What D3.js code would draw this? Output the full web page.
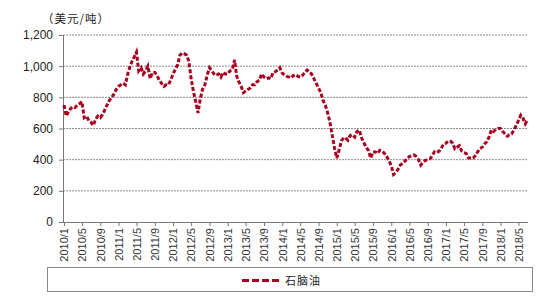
<!DOCTYPE html>
<html>
<head>
<meta charset="utf-8">
<script src="https://cdn.jsdelivr.net/npm/d3@7"></script>
<style>
  body { margin: 0; background: #fff; }
  svg { display: block; font-family: Arial, "Liberation Sans", sans-serif; }
</style>
</head>
<body>
<svg id="chart" width="550" height="300"></svg>
<script>
// semi-monthly naphtha prices, USD/ton (1st and 16th of each month)
const Y2010 = [750,680,710,730,740,735,750,760,772,670,680,650,640,620,660,680,670,690,720,750,780,800,820,850];
const Y2011 = [870,880,890,880,940,990,1030,1060,1090,970,990,950,970,1000,920,960,960,940,910,890,870,880,880,910];
const Y2012 = [950,980,1010,1070,1085,1080,1070,1030,920,840,770,700,790,850,880,940,990,970,950,940,950,930,960,950];
const Y2013 = [950,970,980,1040,940,900,870,830,840,850,860,880,880,900,910,950,930,920,925,920,960,965,975,990];
const Y2014 = [955,945,935,930,925,940,945,935,930,940,960,975,965,950,920,890,860,830,780,750,700,640,560,480];
const Y2015 = [410,460,520,540,540,525,555,560,545,580,590,540,510,480,460,410,450,450,440,460,455,440,420,395];
const Y2016 = [360,305,320,340,365,375,390,410,420,425,430,420,400,365,385,395,400,405,425,450,445,455,475,500];
const Y2017 = [505,520,518,505,470,480,490,455,445,440,410,410,410,425,450,470,480,500,515,545,590,580,595,600];
const Y2018 = [600,580,565,550,560,565,590,620,650,685,665,630,655];

const YEARS = [2010, 2011, 2012, 2013, 2014, 2015, 2016, 2017, 2018];
const SERIES = [Y2010, Y2011, Y2012, Y2013, Y2014, Y2015, Y2016, Y2017, Y2018];
const Y_TICKS = [0, 200, 400, 600, 800, 1000, 1200];
const SERIES_NAME = "石脑油";
const UNIT_LABEL = "（美元/吨）";

const LINE_COLOR = "#A8001E";
const CJK_FONT = "'Noto Sans CJK SC', sans-serif";

// build dated points: index 2k -> 1st of month k, 2k+1 -> 16th
const data = [];
SERIES.forEach((vals, i) => {
    vals.forEach((v, j) => {
        const month = Math.floor(j / 2);
        const day = j % 2 === 0 ? 1 : 16;
        data.push({ date: new Date(YEARS[i], month, day), value: v });
    });
});

const svg = d3.select("#chart");
const margin = { left: 63, right: 22, top: 35, bottom: 78 };
const width = 550 - margin.left - margin.right;
const height = 300 - margin.top - margin.bottom;

const x = d3.scaleTime()
    .domain([new Date(2010, 0, 1), new Date(2018, 6, 4)])
    .range([margin.left + 1, margin.left + width]);

const y = d3.scaleLinear()
    .domain([0, 1200])
    .range([margin.top + height, margin.top]);

// gridlines
svg.append("g")
    .selectAll("line")
    .data(Y_TICKS.filter(d => d > 0))
    .join("line")
    .attr("x1", margin.left)
    .attr("x2", margin.left + width)
    .attr("y1", d => y(d))
    .attr("y2", d => y(d))
    .attr("stroke", "#8a8a8a")
    .attr("stroke-width", 1)
    .attr("stroke-dasharray", "2,1");

// y axis
const yAxis = svg.append("g")
    .attr("transform", `translate(${margin.left},0)`)
    .call(d3.axisLeft(y).tickValues(Y_TICKS).tickSize(4).tickFormat(d3.format(",")));
yAxis.select(".domain").attr("stroke", "#777");
yAxis.selectAll(".tick line").attr("stroke", "#777");
yAxis.selectAll(".tick text")
    .attr("font-size", 12)
    .attr("fill", "#222")
    .attr("x", -10);

// x axis: a tick every 4 months
const xTicks = d3.timeMonth.every(4).range(new Date(2010, 0, 1), new Date(2018, 6, 2));
const xAxis = svg.append("g")
    .attr("transform", `translate(0,${margin.top + height})`)
    .call(d3.axisBottom(x).tickValues(xTicks).tickSize(4)
        .tickFormat(d => `${d.getFullYear()}/${d.getMonth() + 1}`));
xAxis.select(".domain").attr("stroke", "#777").attr("d", `M${margin.left},0.5H${margin.left + width}`);
xAxis.selectAll(".tick line").attr("stroke", "#777");
xAxis.selectAll(".tick text")
    .attr("font-size", 11)
    .attr("fill", "#333")
    .attr("transform", "rotate(-90)")
    .attr("text-anchor", "end")
    .attr("x", -6)
    .attr("y", 0)
    .attr("dy", "0.35em");

// unit label
svg.append("text")
    .attr("x", 42)
    .attr("y", 23)
    .attr("font-size", 11.5)
    .attr("letter-spacing", 1)
    .attr("font-family", CJK_FONT)
    .attr("fill", "#222")
    .text(UNIT_LABEL);

// price line
const line = d3.line()
    .x(d => x(d.date))
    .y(d => y(d.value));

svg.append("path")
    .datum(data)
    .attr("fill", "none")
    .attr("stroke", LINE_COLOR)
    .attr("stroke-width", 3)
    .attr("stroke-dasharray", "4,2")
    .attr("d", line);

// legend
svg.append("rect")
    .attr("x", 47.5)
    .attr("y", 267.5)
    .attr("width", 485)
    .attr("height", 24)
    .attr("fill", "none")
    .attr("stroke", "#888");

svg.append("line")
    .attr("x1", 242)
    .attr("x2", 280)
    .attr("y1", 280.5)
    .attr("y2", 280.5)
    .attr("stroke", LINE_COLOR)
    .attr("stroke-width", 3)
    .attr("stroke-dasharray", "7,3");

svg.append("text")
    .attr("x", 285)
    .attr("y", 284.5)
    .attr("font-size", 11)
    .attr("letter-spacing", 1)
    .attr("font-family", CJK_FONT)
    .attr("fill", "#222")
    .text(SERIES_NAME);
</script>
</body>
</html>
